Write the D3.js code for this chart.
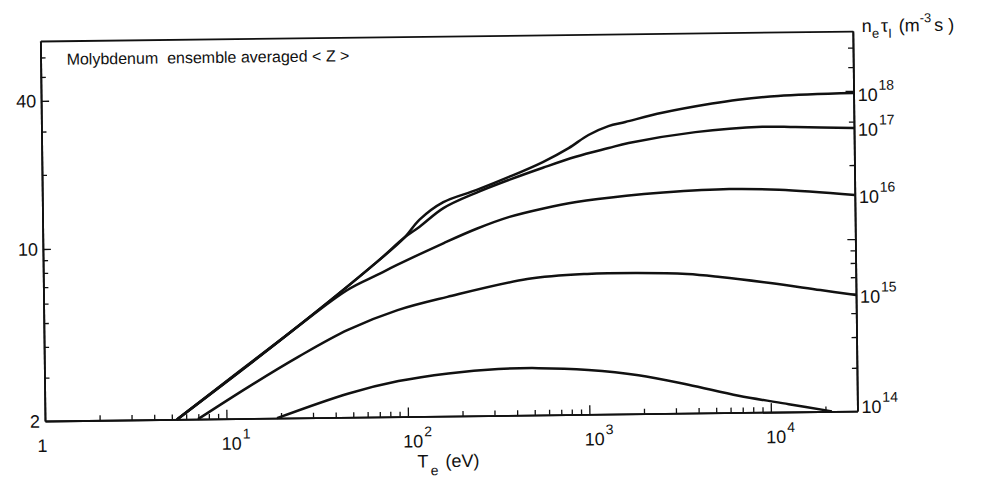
<!DOCTYPE html>
<html>
<head>
<meta charset="utf-8">
<script src="https://cdn.jsdelivr.net/npm/d3@7"></script>
<style>
  body { margin: 0; background: #fff; }
  svg { display: block; font-family: "Liberation Sans", Arial, sans-serif; fill: #111; }
  .domain { stroke: #111; stroke-width: 1.8; }
  .tick line { stroke: #111; stroke-width: 1.3; }
  .curve { fill: none; stroke: #111; stroke-width: 2.5; stroke-linejoin: round; }
</style>
</head>
<body>
<div id="chart"></div>
<script>
////////////////////////////////////////////////////////////////////
////////////////////////////  Data  ////////////////////////////////
// exponent of n_e tau_I (m^-3 s) for each curve
const curveExp = ["18", "17", "16", "15", "14"];

// T_e (eV) and <Z>, one pair of arrays per curve
const te18 = [5.34, 22.9, 69.2, 98.7, 119.5, 162, 246, 374, 576, 801, 1032, 1331, 1651, 2637, 4973, 6918, 11500, 30000];
const z18 = [2.0, 4.47, 8.53, 10.7, 12.6, 14.8, 16.5, 18.6, 21.3, 24.2, 27.3, 29.6, 30.7, 33.3, 36.1, 37.3, 38.5, 39.2];

const te17 = [5.34, 22.9, 69.2, 98.7, 119.5, 162, 246, 374, 576, 875, 1331, 1715, 4010, 9380, 14260, 30000];
const z17 = [2.0, 4.47, 8.53, 10.7, 11.8, 14.0, 16.1, 18.1, 20.2, 22.3, 24.1, 25.2, 27.7, 28.9, 28.7, 28.3];

const te16 = [5.34, 22.9, 47.3, 69.2, 89.2, 162, 246, 374, 576, 875, 1651, 2637, 6100, 11500, 30000];
const z16 = [2.0, 4.47, 6.58, 7.55, 8.27, 10.1, 11.5, 12.8, 13.8, 14.6, 15.4, 15.8, 16.2, 16.0, 15.1];

const te15 = [6.97, 13.3, 25.1, 47.3, 89.2, 168, 464, 993, 1875, 3530, 5370, 10140, 19100, 30000];
const z15 = [2.0, 2.69, 3.54, 4.53, 5.42, 6.10, 7.14, 7.44, 7.46, 7.35, 7.12, 6.69, 6.23, 5.93];

const te14 = [19.0, 47.3, 89.2, 168, 317, 527, 993, 1875, 3530, 6660, 12570, 21700];
const z14 = [2.0, 2.50, 2.79, 2.98, 3.09, 3.10, 3.03, 2.87, 2.61, 2.34, 2.15, 2.0];

// axes
const xDomain = [1, 30000];
const yDomain = [2, 70];
const xMajor = [1, 10, 100, 1000, 10000];
const xMajorExp = ["", "1", "2", "3", "4"];
const yLabelled = [2, 10, 40];

////////////////////////////////////////////////////////////////////
////////////////////////////  Init  ////////////////////////////////
const width = 985;
const height = 490;
const margin = { top: 41, right: 127.5, bottom: 69, left: 45 };
const pLeft = margin.left;
const pRight = width - margin.right;
const pTop = margin.top;
const pBottom = height - margin.bottom;

const svg = d3.select("#chart").append("svg")
  .attr("width", width)
  .attr("height", height);

// the scanned figure sits slightly rotated on the page
const g = svg.append("g").attr("transform", `rotate(-0.7, ${pLeft}, ${pBottom})`);

// scale
const x = d3.scaleLog().domain(xDomain).range([pLeft, pRight]);
const y = d3.scaleLog().domain(yDomain).range([pBottom, pTop]);

const xMinor = x.ticks().filter((d) => !xMajor.includes(d) && d < xDomain[1]);
const yMinor = y.ticks().filter((d) => !yLabelled.includes(d) && d > yDomain[0] && d < yDomain[1]);

////////////////////////////////////////////////////////////////////
////////////////////////////  Axes  ////////////////////////////////
// bottom
g.append("g").attr("transform", `translate(0,${pBottom})`)
  .call(d3.axisBottom(x).tickValues(xMinor).tickSize(-5).tickSizeOuter(0).tickFormat(""));
g.append("g").attr("transform", `translate(0,${pBottom})`)
  .call(d3.axisBottom(x).tickValues(xMajor.slice(1)).tickSize(-9).tickSizeOuter(0).tickFormat(""));
// top (plain line)
g.append("g").attr("transform", `translate(0,${pTop})`)
  .call(d3.axisTop(x).tickValues([]).tickSizeOuter(0));
// left
g.append("g").attr("transform", `translate(${pLeft},0)`)
  .call(d3.axisLeft(y).tickValues(yMinor).tickSize(-5).tickSizeOuter(0).tickFormat(""));
g.append("g").attr("transform", `translate(${pLeft},0)`)
  .call(d3.axisLeft(y).tickValues(yLabelled.slice(1)).tickSize(-8).tickSizeOuter(0).tickFormat(""));
// right
g.append("g").attr("transform", `translate(${pRight},0)`)
  .call(d3.axisRight(y).tickValues(yMinor).tickSize(-5).tickSizeOuter(0).tickFormat(""));
g.append("g").attr("transform", `translate(${pRight},0)`)
  .call(d3.axisRight(y).tickValues(yLabelled.slice(1)).tickSize(-8).tickSizeOuter(0).tickFormat(""));

//labels y
g.selectAll(".ylab")
  .data(yLabelled)
  .enter()
  .append("text")
  .attr("class", "ylab")
  .attr("x", pLeft - 5)
  .attr("y", (d) => y(d))
  .attr("dy", "0.36em")
  .attr("text-anchor", "end")
  .attr("font-size", 18)
  .text((d) => d);

//labels x
const xlab = g.selectAll(".xlab")
  .data(xMajor)
  .enter()
  .append("text")
  .attr("class", "xlab")
  .attr("x", (d, i) => (i === 0 ? x(d) - 8 : x(d) - 5))
  .attr("y", pBottom + 31)
  .attr("font-size", 18);
xlab.append("tspan").text((d, i) => (i === 0 ? "1" : "10"));
xlab.append("tspan")
  .attr("font-size", 14)
  .attr("dy", -11)
  .attr("dx", 1)
  .text((d, i) => xMajorExp[i]);

// axis title
const xt = g.append("text").attr("x", 417).attr("y", pBottom + 51).attr("font-size", 18);
xt.append("tspan").text("T");
xt.append("tspan").attr("font-size", 14).attr("dy", 8).attr("dx", 2).text("e");
xt.append("tspan").attr("dy", -8).attr("dx", 7).text("(eV)");

// chart title
g.append("text")
  .attr("x", pLeft + 26)
  .attr("y", pTop + 24)
  .attr("font-size", 16)
  .attr("xml:space", "preserve")
  .text("Molybdenum  ensemble averaged < Z >");

// right axis title
const rt = g.append("text").attr("x", pRight + 9).attr("y", pTop + 1).attr("font-size", 18)
  .attr("xml:space", "preserve");
rt.append("tspan").text("n");
rt.append("tspan").attr("font-size", 13).attr("dy", 6).text("e");
rt.append("tspan").attr("dy", -6).attr("dx", 2).text("τ");
rt.append("tspan").attr("font-size", 13).attr("dy", 6).text("I");
rt.append("tspan").attr("dy", -6).attr("dx", 2).text(" (m");
rt.append("tspan").attr("font-size", 13).attr("dy", -9).text("-3");
rt.append("tspan").attr("dy", 9).attr("dx", 3).text("s )");

////////////////////////////////////////////////////////////////////
////////////////////////////  Curves  //////////////////////////////
const series = [
  { exp: curveExp[0], t: te18, z: z18 },
  { exp: curveExp[1], t: te17, z: z17 },
  { exp: curveExp[2], t: te16, z: z16 },
  { exp: curveExp[3], t: te15, z: z15 },
  { exp: curveExp[4], t: te14, z: z14 },
];

const line = d3.line()
  .x((d) => x(d[0]))
  .y((d) => y(d[1]))
  .curve(d3.curveCatmullRom.alpha(0.5));

g.selectAll(".curve")
  .data(series)
  .enter()
  .append("path")
  .attr("class", "curve")
  .attr("d", (s) => line(d3.zip(s.t, s.z)));

// curve labels at the right edge
const rl = g.selectAll(".rlab")
  .data(series)
  .enter()
  .append("text")
  .attr("class", "rlab")
  .attr("x", pRight + 4)
  .attr("y", (s) => Math.min(y(s.z[s.z.length - 1]) + 8, pBottom + 2))
  .attr("font-size", 18);
rl.append("tspan").text("10");
rl.append("tspan").attr("font-size", 14).attr("dy", -11).attr("dx", 1).text((s) => s.exp);
</script>
</body>
</html>
